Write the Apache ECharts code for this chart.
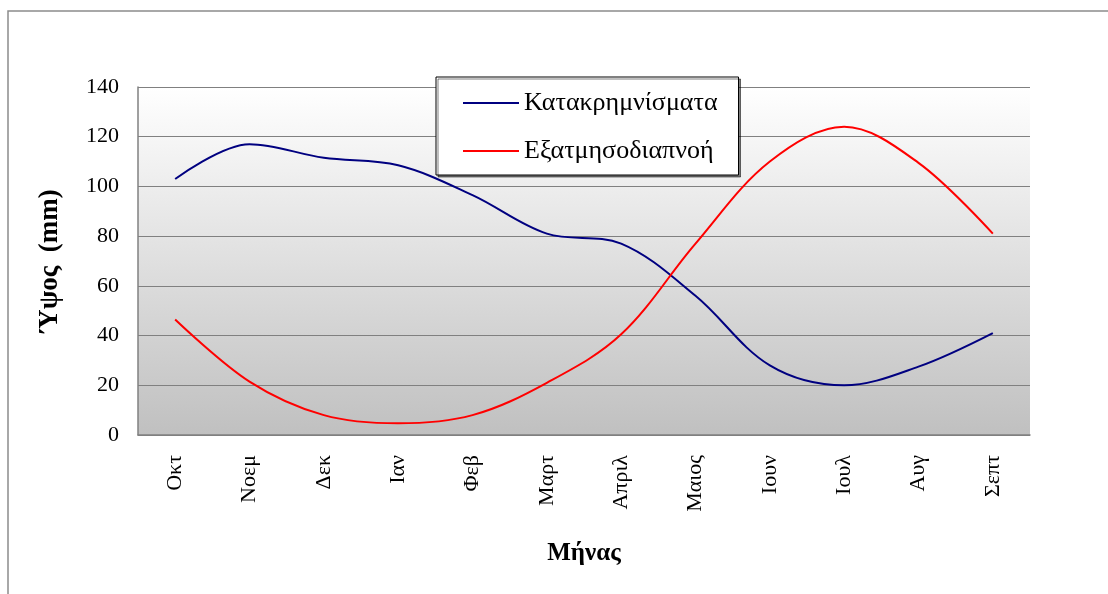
<!DOCTYPE html>
<html>
<head>
<meta charset="utf-8">
<script src="https://cdn.jsdelivr.net/npm/echarts@6/dist/echarts.min.js"></script>
<style>
  html, body { margin: 0; padding: 0; background: #fff; }
  #chart { width: 1108px; height: 594px; }
</style>
</head>
<body>
<div id="chart"></div>
<script>
// μήνες υδρολογικού έτους
const months = ['Οκτ', 'Νοεμ', 'Δεκ', 'Ιαν', 'Φεβ', 'Μαρτ', 'Απριλ', 'Μαιος', 'Ιουν', 'Ιουλ', 'Αυγ', 'Σεπτ']
const rain = [103, 117, 111.5, 108.5, 96.5, 81, 77, 56, 28, 20, 27.5, 41]
const evap = [46.5, 21.5, 8, 4.7, 8, 21, 40.5, 77, 110, 124, 109.5, 81]
const yTicks = [0, 140, 20]

const serif = '"Liberation Serif", "DejaVu Serif", serif'
const chart = echarts.init(document.getElementById('chart'))

chart.setOption({
  animation: false,
  backgroundColor: '#fff',
  textStyle: { fontFamily: serif, color: '#000' },
  graphic: [
    {
      type: 'rect',
      shape: { x: 8, y: 11, width: 1130, height: 620 },
      style: { fill: 'none', stroke: '#8c8c8c', lineWidth: 1.5 },
      z: -10
    }
  ],
  grid: {
    left: 138, right: 78, top: 87, bottom: 159,
    show: true,
    borderWidth: 0,
    backgroundColor: new echarts.graphic.LinearGradient(0, 0, 0, 1, [
      { offset: 0, color: '#ffffff' },
      { offset: 1, color: '#c0c0c0' }
    ])
  },
  legend: {
    orient: 'vertical',
    left: 436, top: 77,
    padding: [13, 21, 11, 27],
    icon: 'rect',
    itemWidth: 56, itemHeight: 2, itemGap: 22,
    backgroundColor: '#fff',
    borderColor: '#000', borderWidth: 1,
    shadowColor: 'rgba(0,0,0,0.5)', shadowBlur: 0, shadowOffsetX: 2, shadowOffsetY: 2,
    textStyle: { fontFamily: serif, fontSize: 26, lineHeight: 26, color: '#000' },
    data: ['Κατακρημνίσματα', 'Εξατμησοδιαπνοή']
  },
  xAxis: {
    type: 'category',
    data: months,
    boundaryGap: true,
    axisLine: { lineStyle: { color: '#808080', width: 1.5 } },
    axisTick: { show: false },
    axisLabel: { rotate: 90, margin: 20, fontFamily: serif, fontSize: 22, color: '#000' },
    name: 'Μήνας',
    nameLocation: 'middle',
    nameGap: 106,
    nameTextStyle: { fontFamily: serif, fontSize: 25, fontWeight: 'bold', color: '#000' }
  },
  yAxis: {
    type: 'value',
    min: yTicks[0], max: yTicks[1], interval: yTicks[2],
    axisLine: { show: true, lineStyle: { color: '#808080', width: 1.5 } },
    axisTick: { show: false },
    splitLine: { lineStyle: { color: '#808080', width: 1 } },
    axisLabel: { margin: 19, fontFamily: serif, fontSize: 22, color: '#000' },
    name: 'Ύψος  (mm)',
    nameLocation: 'middle',
    nameRotate: 90,
    nameGap: 74,
    nameTextStyle: { fontFamily: serif, fontSize: 27, fontWeight: 'bold', color: '#000' }
  },
  series: [
    {
      name: 'Κατακρημνίσματα',
      type: 'line',
      data: rain,
      smooth: 0.35,
      symbol: 'none',
      itemStyle: { color: '#000080' },
      lineStyle: { color: '#000080', width: 2 }
    },
    {
      name: 'Εξατμησοδιαπνοή',
      type: 'line',
      data: evap,
      smooth: 0.35,
      symbol: 'none',
      itemStyle: { color: '#ff0000' },
      lineStyle: { color: '#ff0000', width: 2 }
    }
  ]
})
</script>
</body>
</html>
